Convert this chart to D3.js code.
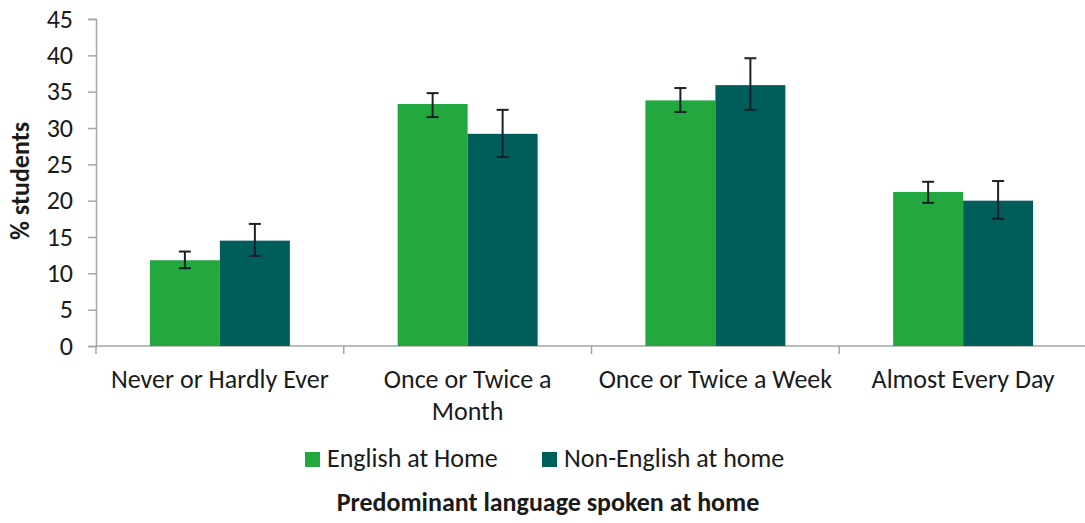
<!DOCTYPE html>
<html>
<head>
<meta charset="utf-8">
<script src="https://cdn.jsdelivr.net/npm/d3@7"></script>
<style>
  body { margin: 0; background: #fff; }
  text { font-family: Carlito, Calibri, "Liberation Sans", sans-serif; fill: #1a1a1a; }
</style>
</head>
<body>
<div id="chart"></div>
<script>
// data
const categories = ["Never or Hardly Ever", "Once or Twice a Month", "Once or Twice a Week", "Almost Every Day"];
const seriesNames = ["English at Home", "Non-English at home"];
const englishValues = [11.8, 33.3, 33.8, 21.2];
const englishLow = [10.7, 31.5, 32.2, 19.7];
const englishHigh = [13.0, 34.8, 35.5, 22.6];
const nonEnglishValues = [14.5, 29.2, 35.9, 20.0];
const nonEnglishLow = [12.4, 26.0, 32.5, 17.5];
const nonEnglishHigh = [16.8, 32.5, 39.6, 22.7];
const yTicks = [0, 5, 10, 15, 20, 25, 30, 35, 40, 45];
const colors = ["#22a83f", "#005e5a"];

const width = 1085, height = 523;
const margin = { top: 19, right: -2, bottom: 177, left: 96 };
const fontSize = "26px";

const svg = d3.select("#chart").append("svg")
  .attr("width", width)
  .attr("height", height);

const rows = categories.map((c, i) => ({
  cat: c,
  vals: [
    { s: 0, v: englishValues[i], lo: englishLow[i], hi: englishHigh[i] },
    { s: 1, v: nonEnglishValues[i], lo: nonEnglishLow[i], hi: nonEnglishHigh[i] }
  ]
}));

const x = d3.scaleBand()
  .domain(categories)
  .range([margin.left, width - margin.right])
  .paddingInner(0.435)
  .paddingOuter(0.2175);

const x1 = d3.scaleBand()
  .domain([0, 1])
  .range([0, x.bandwidth()]);

const y = d3.scaleLinear()
  .domain([0, 45])
  .range([height - margin.bottom, margin.top]);

// y axis
const yAxis = svg.append("g")
  .attr("transform", `translate(${margin.left},0)`)
  .call(d3.axisLeft(y).tickValues(yTicks).tickSize(8).tickPadding(15));
yAxis.selectAll("text").style("font-size", fontSize);
yAxis.selectAll("line, path").attr("stroke", "#a6a6a6").attr("stroke-width", 1.5);

// x axis with ticks at band edges
const xAxisG = svg.append("g")
  .attr("transform", `translate(0,${y(0)})`);
xAxisG.append("line")
  .attr("x1", margin.left).attr("x2", width)
  .attr("stroke", "#a6a6a6").attr("stroke-width", 1.5);
const step = x.step();
const edges = categories.map(c => x(c) - (step - x.bandwidth()) / 2);
xAxisG.selectAll(".edge").data(edges).join("line")
  .attr("class", "edge")
  .attr("x1", d => d).attr("x2", d => d)
  .attr("y1", 0).attr("y2", 8)
  .attr("stroke", "#a6a6a6").attr("stroke-width", 1.5);

// category labels (wrapped like the original)
const labelLines = {
  "Never or Hardly Ever": ["Never or Hardly Ever"],
  "Once or Twice a Month": ["Once or Twice a", "Month"],
  "Once or Twice a Week": ["Once or Twice a Week"],
  "Almost Every Day": ["Almost Every Day"]
};
const lab = svg.append("g").selectAll("text").data(categories).join("text")
  .attr("x", d => x(d) + x.bandwidth() / 2)
  .attr("y", 388)
  .attr("text-anchor", "middle")
  .style("font-size", fontSize);
lab.selectAll("tspan").data(d => labelLines[d]).join("tspan")
  .attr("x", function () { return d3.select(this.parentNode).attr("x"); })
  .attr("dy", (d, i) => i === 0 ? 0 : 32)
  .text(d => d);

// bars
const groups = svg.append("g").selectAll("g").data(rows).join("g")
  .attr("transform", d => `translate(${x(d.cat)},0)`);

groups.selectAll("rect").data(d => d.vals).join("rect")
  .attr("x", d => x1(d.s))
  .attr("y", d => y(d.v))
  .attr("width", x1.bandwidth())
  .attr("height", d => y(0) - y(d.v))
  .attr("fill", d => colors[d.s]);

// error bars
const err = groups.selectAll("g.err").data(d => d.vals).join("g")
  .attr("class", "err")
  .attr("transform", d => `translate(${x1(d.s) + x1.bandwidth() / 2},0)`);
err.append("line")
  .attr("y1", d => y(d.lo)).attr("y2", d => y(d.hi));
err.append("line")
  .attr("x1", -6).attr("x2", 6)
  .attr("y1", d => y(d.lo)).attr("y2", d => y(d.lo));
err.append("line")
  .attr("x1", -6).attr("x2", 6)
  .attr("y1", d => y(d.hi)).attr("y2", d => y(d.hi));
err.selectAll("line").attr("stroke", "#1c1f2a").attr("stroke-width", 2);

// y title
svg.append("text")
  .attr("transform", `translate(29,181) rotate(-90)`)
  .attr("text-anchor", "middle")
  .style("font-size", fontSize)
  .style("font-weight", "bold")
  .text("% students");

// legend
const legendX = [305, 542];
const legend = svg.append("g").selectAll("g").data(seriesNames).join("g")
  .attr("transform", (d, i) => `translate(${legendX[i]},452)`);
legend.append("rect")
  .attr("width", 15).attr("height", 15)
  .attr("fill", (d, i) => colors[i]);
legend.append("text")
  .attr("x", 22).attr("y", 15)
  .style("font-size", fontSize)
  .text(d => d);

// x title
svg.append("text")
  .attr("x", 548).attr("y", 511)
  .attr("text-anchor", "middle")
  .style("font-size", fontSize)
  .style("font-weight", "bold")
  .text("Predominant language spoken at home");
</script>
</body>
</html>
